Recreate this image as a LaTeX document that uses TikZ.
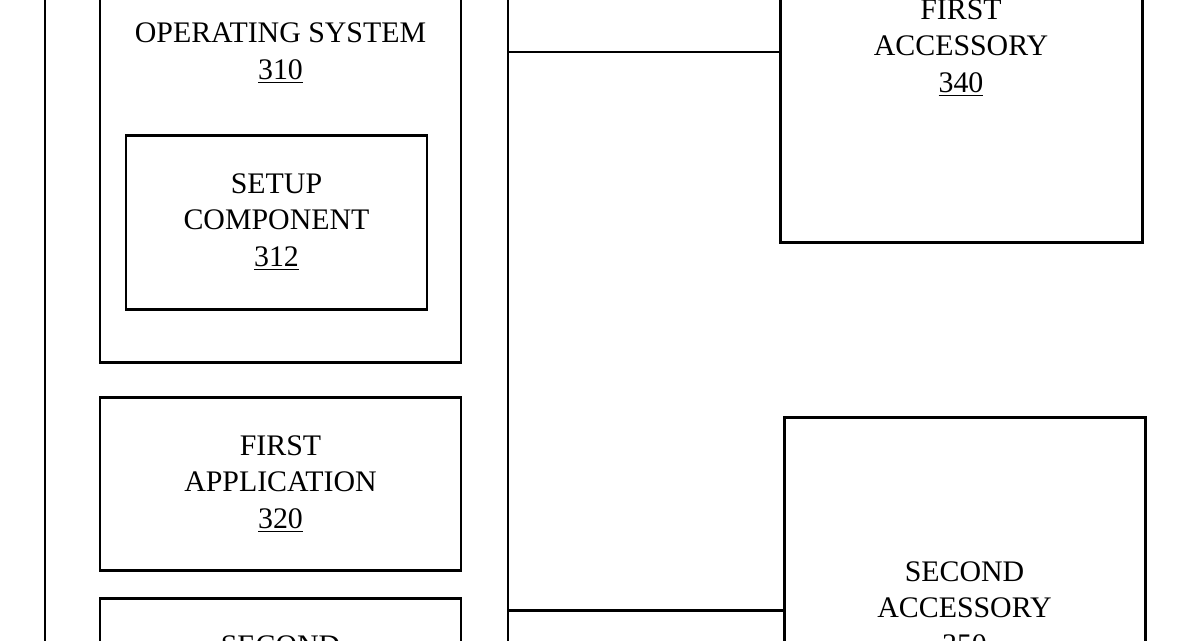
\documentclass[tikz,border=0pt]{standalone}
\usepackage{fontspec}
\setmainfont{Liberation Serif}
\usepackage{tikz}

\tikzset{
  blk/.style={draw, line width=1.7pt, rectangle, inner sep=0pt},
  lbl/.style={align=center, font=\fontsize{17}{21}\selectfont, inner sep=0pt},
}

\begin{document}
\begin{tikzpicture}[x=0.02cm, y=-0.02cm, line width=1.7pt]
\useasboundingbox (0,0) rectangle (1200,640);
\clip (0,0) rectangle (1200,640);
\path (276.5,330) node[blk, minimum width=463*0.02cm, minimum height=860*0.02cm] (dev) {}
      (280.5,166) node[blk, minimum width=361*0.02cm, minimum height=392*0.02cm] (os) {}
      (280.5,53) node[lbl] (oslbl) {OPERATING SYSTEM\\\underline{310}}
      (276.5,222) node[blk, lbl, minimum width=301*0.02cm, minimum height=174*0.02cm] (setup) {SETUP\\COMPONENT\\\underline{312}}
      (280.5,484) node[blk, lbl, minimum width=361*0.02cm, minimum height=173*0.02cm] (app1) {FIRST\\APPLICATION\\\underline{320}}
      (280.5,684.5) node[blk, lbl, minimum width=361*0.02cm, minimum height=173*0.02cm] (app2) {SECOND\\APPLICATION\\\underline{330}}
      (961,48) node[blk, lbl, minimum width=362*0.02cm, minimum height=388*0.02cm] (acc1) {FIRST\\ACCESSORY\\\underline{340}}
      (964.5,610) node[blk, lbl, minimum width=361*0.02cm, minimum height=386*0.02cm] (acc2) {SECOND\\ACCESSORY\\\underline{350}}
      ;
\coordinate (tap1) at ([yshift=-0.08cm]acc1.west);
\draw (tap1) -- (tap1 -| dev.east);
\draw (acc2.west) -- (acc2.west -| dev.east);
\end{tikzpicture}
\end{document}
